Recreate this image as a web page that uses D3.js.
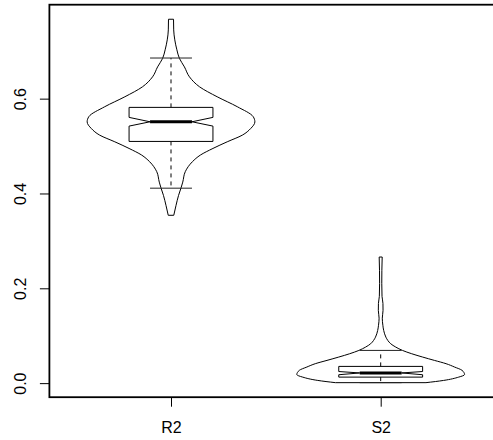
<!DOCTYPE html>
<html>
<head>
<meta charset="utf-8">
<script src="https://cdn.jsdelivr.net/npm/d3@7"></script>
<style>
body { margin: 0; background: #fff; }
svg { display: block; font-family: "Liberation Sans", Arial, sans-serif; }
</style>
</head>
<body>
<div id="chart"></div>
<script>
// groups on the x axis
const groups = ["R2", "S2"];

// violin outlines: value, and half-width relative to the widest point
const r2Values = [0.354, 0.375, 0.396, 0.412, 0.424, 0.446, 0.467, 0.481, 0.495, 0.509, 0.523, 0.537,
    0.551, 0.562, 0.583, 0.604, 0.625, 0.646, 0.667, 0.685, 0.703, 0.724, 0.745, 0.7675];
const r2Widths = [0.033, 0.06, 0.09, 0.12, 0.14, 0.17, 0.255, 0.35, 0.50, 0.67, 0.85, 0.95,
    1.0, 0.98, 0.79, 0.55, 0.34, 0.22, 0.16, 0.10, 0.07, 0.045, 0.032, 0.03];
const s2Values = [0.001, 0.0057, 0.0127, 0.018, 0.027, 0.034, 0.041, 0.048, 0.055, 0.062, 0.069, 0.076,
    0.083, 0.090, 0.097, 0.111, 0.122, 0.137, 0.1535, 0.168, 0.183, 0.2106, 0.238, 0.266];
const s2Widths = [0.54, 0.75, 0.93, 1.0, 0.97, 0.88, 0.78, 0.64, 0.50, 0.37, 0.26, 0.18,
    0.12, 0.085, 0.062, 0.036, 0.026, 0.019, 0.028, 0.027, 0.016, 0.013, 0.014, 0.018];

// boxplot stats (one entry per group)
const whiskerLow = [0.4112, 0.001];
const hingeLow = [0.5098, 0.0127];
const notchLow = [0.5421, 0.0177];
const medians = [0.5512, 0.0215];
const notchHigh = [0.5605, 0.0245];
const hingeHigh = [0.5816, 0.0353];
const whiskerHigh = [0.6857, 0.069];

const yTicks = [0, 0.2, 0.4, 0.6];

// frame of the plot region (right edge runs off the page like in the original)
var w = 493, h = 440;
var frame = { left: 49.4, right: 502.3, top: 4.7, bottom: 397.2 };
var fontSize = "16px";

var violins = [
    { values: r2Values, widths: r2Widths },
    { values: s2Values, widths: s2Widths }
];

var svg = d3.select("#chart")
    .append("svg")
    .attr("width", w)
    .attr("height", h)
    .style("overflow", "hidden");

// x like R: 0.5..2.5 plus 4%
var x = d3.scaleLinear()
    .domain([0.42, 2.58])
    .range([frame.left, frame.right]);

var allVals = r2Values.concat(s2Values);
var lo = d3.min(allVals), hi = d3.max(allVals);
var pad = (hi - lo) * 0.04;
var y = d3.scaleLinear()
    .domain([lo - pad, hi + pad])
    .range([frame.bottom, frame.top]);

var unit = x(1) - x(0);

// violins
violins.forEach(function (v, i) {
    var cx = x(i + 1);
    var pts = v.values.map((d, k) => ({ value: d, width: v.widths[k] }));
    var area = d3.area()
        .y(d => y(d.value))
        .x0(d => cx - d.width * 0.4 * unit)
        .x1(d => cx + d.width * 0.4 * unit)
        .curve(d3.curveMonotoneY);
    svg.append("path")
        .attr("d", area(pts))
        .attr("fill", "none")
        .attr("stroke", "#000")
        .attr("stroke-width", 1);
});

// boxplots
groups.forEach(function (g, i) {
    var cx = x(i + 1);
    var bw = 0.2 * unit, sw = 0.1 * unit, nw = 0.1 * unit;

    // dashed whiskers
    svg.append("line")
        .attr("x1", cx).attr("x2", cx)
        .attr("y1", y(hingeHigh[i])).attr("y2", y(whiskerHigh[i]))
        .attr("stroke", "#000").attr("stroke-dasharray", "4,4");
    svg.append("line")
        .attr("x1", cx).attr("x2", cx)
        .attr("y1", y(hingeLow[i])).attr("y2", y(whiskerLow[i]))
        .attr("stroke", "#000").attr("stroke-dasharray", "4,4");

    // staples
    [whiskerLow[i], whiskerHigh[i]].forEach(function (s) {
        svg.append("line")
            .attr("x1", cx - sw).attr("x2", cx + sw)
            .attr("y1", y(s)).attr("y2", y(s))
            .attr("stroke", "#222");
    });

    // notched box
    var box = [
        [cx - bw, hingeLow[i]], [cx + bw, hingeLow[i]], [cx + bw, notchLow[i]],
        [cx + nw, medians[i]], [cx + bw, notchHigh[i]], [cx + bw, hingeHigh[i]],
        [cx - bw, hingeHigh[i]], [cx - bw, notchHigh[i]], [cx - nw, medians[i]],
        [cx - bw, notchLow[i]]
    ];
    svg.append("path")
        .attr("d", d3.line().x(d => d[0]).y(d => y(d[1]))(box) + "Z")
        .attr("fill", "#fff")
        .attr("stroke", "#000")
        .attr("stroke-width", 1);

    // median
    svg.append("line")
        .attr("x1", cx - nw).attr("x2", cx + nw)
        .attr("y1", y(medians[i])).attr("y2", y(medians[i]))
        .attr("stroke", "#000").attr("stroke-width", 3);
});

// frame
svg.append("rect")
    .attr("x", frame.left).attr("y", frame.top)
    .attr("width", frame.right - frame.left)
    .attr("height", frame.bottom - frame.top)
    .attr("fill", "none")
    .attr("stroke", "#000")
    .attr("stroke-width", 1.8);

// y axis
var yAxis = svg.append("g")
    .attr("transform", `translate(${frame.left}, 0)`)
    .call(d3.axisLeft(y).tickValues(yTicks).tickSize(9.5).tickFormat(d3.format(".1f")));
yAxis.select(".domain").remove();
yAxis.selectAll("line").attr("stroke", "#000");
yAxis.selectAll("text")
    .attr("x", null).attr("dy", null)
    .attr("text-anchor", "middle")
    .attr("transform", "translate(-23.9, 0) rotate(-90)")
    .attr("fill", "#000")
    .style("font-size", fontSize)
    .style("font-family", '"Liberation Sans", Arial, sans-serif');

// x axis
var xAxis = svg.append("g")
    .attr("transform", `translate(0, ${frame.bottom})`)
    .call(d3.axisBottom(x).tickValues([1, 2]).tickSize(9.5).tickFormat(d => groups[d - 1]));
xAxis.select(".domain").remove();
xAxis.selectAll("line").attr("stroke", "#000");
xAxis.selectAll("text")
    .attr("y", 35.8).attr("dy", null)
    .attr("fill", "#000")
    .style("font-size", fontSize)
    .style("font-family", '"Liberation Sans", Arial, sans-serif');
</script>
</body>
</html>
